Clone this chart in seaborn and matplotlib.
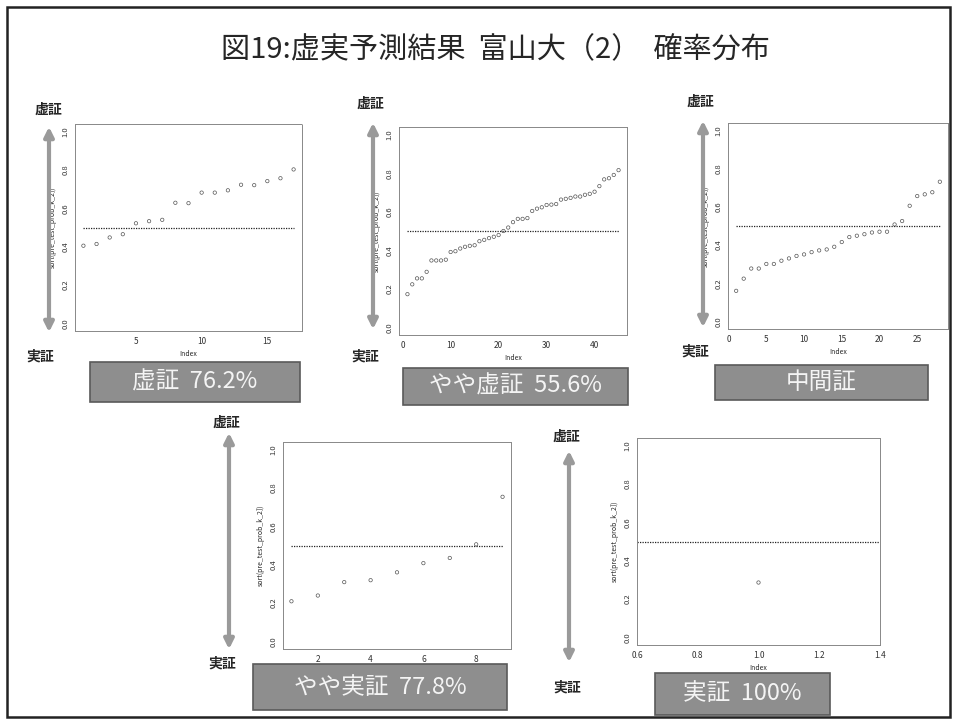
import numpy as np
import pandas as pd
import matplotlib
matplotlib.use("Agg")
import matplotlib.pyplot as plt
from matplotlib.patches import FancyArrowPatch, Rectangle
import seaborn as sns

sns.set_style("white")
plt.rcParams['font.family'] = ['Noto Sans CJK JP', 'DejaVu Sans']

# --- data (sorted predicted probabilities) ---
title = "図19:虚実予測結果  富山大（2）  確率分布"

p1 = [0.405, 0.414, 0.448, 0.465, 0.522, 0.533, 0.540, 0.629, 0.627,
      0.682, 0.682, 0.694, 0.723, 0.721, 0.742, 0.757, 0.803]
p2 = [0.172, 0.223, 0.254, 0.254, 0.288, 0.347, 0.347, 0.347, 0.351,
      0.391, 0.395, 0.409, 0.418, 0.423, 0.426, 0.447, 0.454, 0.463,
      0.470, 0.479, 0.500, 0.518, 0.546, 0.563, 0.563, 0.567, 0.604,
      0.616, 0.623, 0.635, 0.637, 0.640, 0.663, 0.667, 0.672, 0.679,
      0.679, 0.688, 0.693, 0.704, 0.733, 0.768, 0.774, 0.791, 0.816]
p3 = [0.160, 0.224, 0.277, 0.277, 0.301, 0.301, 0.318, 0.330, 0.343,
      0.351, 0.363, 0.372, 0.377, 0.391, 0.416, 0.442, 0.449, 0.457,
      0.466, 0.470, 0.470, 0.508, 0.526, 0.606, 0.657, 0.666, 0.677, 0.732]
p4 = [0.209, 0.239, 0.309, 0.319, 0.360, 0.408, 0.435, 0.506, 0.754]
p5 = [0.286]

series = [p1, p2, p3, p4, p5]
labels = ["虚証  76.2%", "やや虚証  55.6%", "中間証", "やや実証  77.8%", "実証  100%"]
xticks = [[5, 10, 15], [0, 10, 20, 30, 40], [0, 5, 10, 15, 20, 25],
          [2, 4, 6, 8], [0.6, 0.8, 1.0, 1.2, 1.4]]
xticklabels = [[str(t) for t in xticks[0]], [str(t) for t in xticks[1]],
               [str(t) for t in xticks[2]], [str(t) for t in xticks[3]],
               ["0.6", "0.8", "1.0", "1.2", "1.4"]]
yticks = [0.0, 0.2, 0.4, 0.6, 0.8, 1.0]
ylab = "sort(pre_test_prob_k_2])"
top_word = "虚証"
bottom_word = "実証"

# --- layout in pixels (left, top, right, bottom) ---
W, H = 957, 724
axes_px = [(75, 124, 302, 331), (399, 127, 627, 335), (728, 123, 948, 329),
           (283, 442, 511, 649), (637, 438, 880, 645)]
arrow_px = [(49, 124, 335), (373, 120, 332), (703, 118, 330),
            (229, 430, 652), (569, 448, 665)]
top_word_px = [(48, 110), (370, 104), (700, 102), (226, 423), (566, 437)]
bot_word_px = [(40, 357), (365, 357), (695, 352), (222, 664), (567, 688)]
box_px = [(90, 362, 300, 402), (403, 368, 628, 405), (715, 365, 928, 400),
          (253, 664, 507, 710), (655, 673, 830, 715)]

fig = plt.figure(figsize=(W / 100, H / 100), dpi=100)


def fx(x):
    return x / W


def fy(y):
    return 1 - y / H


# slide frame
fig.patches.append(Rectangle((fx(7), fy(717)), fx(950) - fx(7), fy(7) - fy(717),
                             transform=fig.transFigure, fill=False,
                             edgecolor="#222222", linewidth=1.8))
fig.text(fx(495), fy(50), title, ha="center", va="center", fontsize=21)

for i, vals in enumerate(series):
    l, t, r, b = axes_px[i]
    ax = fig.add_axes([fx(l), fy(b), fx(r) - fx(l), fy(t) - fy(b)])
    n = len(vals)
    df = pd.DataFrame({"Index": np.arange(1, n + 1), "prob": vals})
    sns.scatterplot(data=df, x="Index", y="prob", ax=ax, marker="o", s=6,
                    color="none", edgecolor="#555555", linewidth=0.5, legend=False)
    pad = 0.04 * (n - 1) if n > 1 else 0.4
    ax.set_xlim(1 - pad, n + pad)
    ax.set_ylim(-0.04, 1.04)
    if n > 1:
        ax.hlines(0.5, 1, n, colors="#222222", linestyles=(0, (1, 1)), linewidth=0.9)
    else:
        ax.axhline(0.5, color="#222222", linestyle=(0, (1, 1)), linewidth=0.9)
    ax.set_xticks(xticks[i])
    ax.set_xticklabels(xticklabels[i], fontsize=6)
    ax.set_yticks(yticks)
    ax.set_yticklabels([f"{v:.1f}" for v in yticks], fontsize=5.5, rotation=90, va="center")
    ax.tick_params(axis="both", length=2, width=0.5, pad=2, colors="#333333", direction="out")
    ax.set_xlabel("Index", fontsize=5, labelpad=3)
    ax.set_ylabel(ylab, fontsize=5, labelpad=3)
    for s in ax.spines.values():
        s.set_color("#888888")
        s.set_linewidth(0.7)
        s.set_linestyle((0, (2, 1)))

    # double arrow
    ax_x, ay0, ay1 = arrow_px[i]
    fig.patches.append(FancyArrowPatch((fx(ax_x), fy(ay0)), (fx(ax_x), fy(ay1)),
                                       transform=fig.transFigure, arrowstyle="<|-|>",
                                       mutation_scale=14, color="#9a9a9a", linewidth=3))
    tx, ty = top_word_px[i]
    fig.text(fx(tx), fy(ty), top_word, ha="center", va="center", fontsize=10, fontweight="bold")
    bx, by = bot_word_px[i]
    fig.text(fx(bx), fy(by), bottom_word, ha="center", va="center", fontsize=10, fontweight="bold")

    # label box
    x0, y0, x1, y1 = box_px[i]
    fig.patches.append(Rectangle((fx(x0), fy(y1)), fx(x1) - fx(x0), fy(y0) - fy(y1),
                                 transform=fig.transFigure, facecolor="#8e8e8e",
                                 edgecolor="#5a5a5a", linewidth=1.2))
    fig.text(fx((x0 + x1) / 2), fy((y0 + y1) / 2), labels[i], ha="center", va="center",
             fontsize=17, color="#f4f4f4")

plt.savefig("out.png", dpi=100)
